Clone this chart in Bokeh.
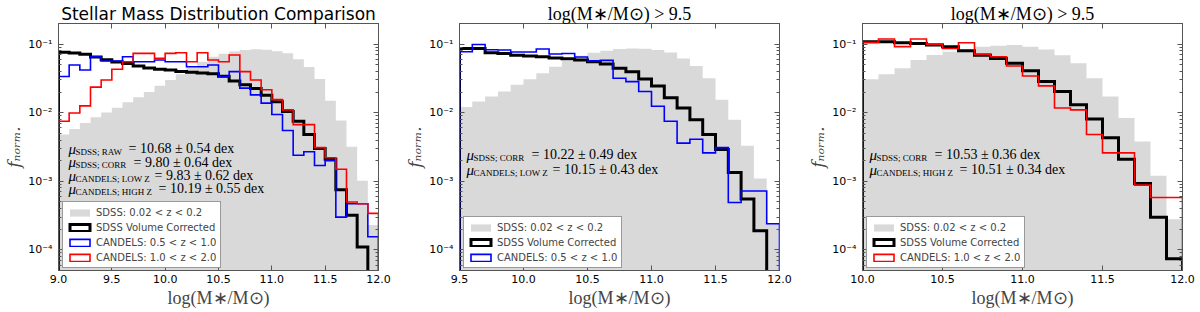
import numpy as np
from bokeh.plotting import figure
from bokeh.models import (Legend, LegendItem, Label, Title, LinearAxis, LogAxis, FixedTicker,
                          PrintfTickFormatter, CustomJSTickFormatter, Range1d)
from bokeh.layouts import row
from bokeh.embed import file_html
from bokeh.resources import INLINE

# ---------------- data (normalised histograms, 0.1 dex bins) ----------------
BIN_WIDTH = 0.1

# Panel 1: bins starting at 9.0
P1_START = 9.0
P1_SDSS_RAW = [0.0048, 0.0058, 0.0071, 0.0086, 0.0101, 0.0118, 0.0142, 0.0168, 0.0200, 0.0248,
               0.0300, 0.0365, 0.0455, 0.0555, 0.0655, 0.0725, 0.0780, 0.0820, 0.0840, 0.0830,
               0.0790, 0.0735, 0.0600, 0.0465, 0.0310, 0.0150, 0.0077, 0.0032, 0.00102, 0.00023]
P1_SDSS_CORR = [0.076, 0.074, 0.071, 0.065, 0.059, 0.055, 0.052, 0.048, 0.045, 0.043,
                0.042, 0.040, 0.039, 0.038, 0.037, 0.034, 0.029, 0.0255, 0.0225, 0.0180,
                0.0145, 0.0104, 0.0075, 0.0048, 0.0030, 0.0021, 0.00075, 0.00032, 0.00011, 0.0]
P1_CANDELS_LOWZ = [0.0337, 0.0497, 0.042, 0.0655, 0.0567, 0.0567, 0.0655, 0.0555, 0.0555, 0.0586,
                   0.0555, 0.0555, 0.0469, 0.0469, 0.0497, 0.0337, 0.0398, 0.0228, 0.0182, 0.0138,
                   0.0094, 0.0055, 0.0024, 0.0027, 0.0017, 0.0020, 0.0003, 0.00047, 0.00047, 0.000155]
P1_CANDELS_HIGHZ = [0.0075, 0.0099, 0.0126, 0.0236, 0.030, 0.043, 0.0555, 0.0733, 0.0733, 0.062,
                    0.0733, 0.075, 0.0555, 0.075, 0.0586, 0.0555, 0.0693, 0.0398, 0.030, 0.0216,
                    0.0155, 0.011, 0.0067, 0.0067, 0.0031, 0.0022, 0.0015, 0.0005, 0.00047, 0.00034]

# Panel 2: bins starting at 9.5
P2_START = 9.5
P2_SDSS_RAW = [0.0121, 0.0146, 0.0173, 0.0204, 0.0255, 0.0308, 0.0376, 0.0469, 0.0573, 0.0677,
               0.0748, 0.080, 0.0847, 0.0865, 0.0855, 0.0818, 0.0757, 0.0619, 0.048, 0.0318,
               0.0154, 0.0079, 0.0033, 0.0011, 0.00024]
P2_SDSS_CORR = [0.0865, 0.0865, 0.075, 0.073, 0.069, 0.067, 0.0655, 0.063, 0.0613, 0.0586,
                0.0555, 0.0513, 0.0444, 0.0397, 0.031, 0.0245, 0.0165, 0.0117, 0.0079, 0.0048,
                0.0029, 0.00134, 0.00055, 0.00019, 0.0]
P2_CANDELS_LOWZ = [0.0774, 0.099, 0.083, 0.082, 0.077, 0.077, 0.085, 0.072, 0.073, 0.065,
                   0.057, 0.058, 0.0318, 0.0284, 0.0204, 0.0124, 0.0075, 0.0036, 0.0041, 0.0026,
                   0.0031, 0.00049, 0.00072, 0.00072, 0.00024]

# Panel 3: bins starting at 10.0
P3_START = 10.0
P3_SDSS_RAW = [0.0308, 0.0363, 0.0444, 0.0586, 0.0693, 0.0774, 0.0837, 0.0914, 0.0946, 0.097,
               0.0914, 0.0837, 0.069, 0.0525, 0.0318, 0.0173, 0.0084, 0.0038, 0.0012, 0.00028]
P3_SDSS_CORR = [0.108, 0.108, 0.105, 0.102, 0.097, 0.0915, 0.080, 0.069, 0.062, 0.0525,
                0.041, 0.0285, 0.0204, 0.0131, 0.0081, 0.0043, 0.0021, 0.00093, 0.0003, 0.000074]
P3_CANDELS_HIGHZ = [0.106, 0.119, 0.092, 0.119, 0.100, 0.0865, 0.105, 0.0716, 0.0655, 0.048,
                    0.0343, 0.0246, 0.0117, 0.011, 0.0048, 0.0026, 0.0026, 0.00088, 0.00058, 0.00058]

X_TICKS_P1 = [9.0, 9.5, 10.0, 10.5, 11.0, 11.5, 12.0]
X_TICKS_P2 = [9.5, 10.0, 10.5, 11.0, 11.5, 12.0]
X_TICKS_P3 = [10.0, 10.5, 11.0, 11.5, 12.0]
Y_TICKS = [1e-4, 1e-3, 1e-2, 1e-1]
Y_RANGE = (5e-5, 0.2)
X_MAX = 12.0

LEG_RAW = "SDSS: 0.02 < z < 0.2"
LEG_CORR = "SDSS Volume Corrected"
LEG_LOW = "CANDELS: 0.5 < z < 1.0"
LEG_HIGH = "CANDELS: 1.0 < z < 2.0"

TITLE_P1 = "Stellar Mass Distribution Comparison"
TITLE_P23 = "log(M\u2217/M\u2299) > 9.5"
XLABEL = "log(M\u2217/M\u2299)"
YLABEL = "f\u2099\u2092\u1d63\u2098."

STATS_P1 = [("SDSS; RAW", "= 10.68 \u00b1 0.54 dex"),
            ("SDSS; CORR", "= 9.80 \u00b1 0.64 dex"),
            ("CANDELS; LOW Z", "= 9.83 \u00b1 0.62 dex"),
            ("CANDELS; HIGH Z", "= 10.19 \u00b1 0.55 dex")]
STATS_P2 = [("SDSS; CORR", "= 10.22 \u00b1 0.49 dex"),
            ("CANDELS; LOW Z", "= 10.15 \u00b1 0.43 dex")]
STATS_P3 = [("SDSS; CORR", "= 10.53 \u00b1 0.36 dex"),
            ("CANDELS; HIGH Z", "= 10.51 \u00b1 0.34 dex")]

# ---------------- styling ----------------
FRAME = "#555555"
GREY = "#d9d9d9"
FLOOR = 1e-7
SERIF = "Liberation Serif"
SANS = "DejaVu Sans"
FIG_H = 312
FRAME_H = 247

SERIES_STYLE = {
    "corr": dict(color="black", width=3.0, label=LEG_CORR),
    "low": dict(color="#0000ff", width=1.6, label=LEG_LOW),
    "high": dict(color="#ff0000", width=1.6, label=LEG_HIGH),
}


def step_outline(start, vals):
    v = np.asarray(vals, dtype=float)
    v = np.where(v > 0, v, FLOOR)
    e = start + BIN_WIDTH * np.arange(len(v) + 1)
    xs = np.repeat(e, 2)
    ys = np.concatenate([[FLOOR], np.repeat(v, 2), [FLOOR]])
    return xs, ys


minor = [k * 10.0 ** ex for ex in range(-5, 0) for k in range(2, 10)]
y_fmt_code = """
const sup = {"-": "\u207b", "0": "\u2070", "1": "\u00b9", "2": "\u00b2", "3": "\u00b3",
             "4": "\u2074", "5": "\u2075", "6": "\u2076", "7": "\u2077", "8": "\u2078", "9": "\u2079"};
const e = Math.round(Math.log10(tick));
return "10" + String(e).split("").map(c => sup[c]).join("");
"""


def style_axis(ax, show_labels, minor_ticks):
    ax.axis_line_color = FRAME
    ax.major_tick_line_color = FRAME
    ax.major_tick_in = 5
    ax.major_tick_out = 0
    if minor_ticks:
        ax.minor_tick_line_color = FRAME
        ax.minor_tick_in = 3
        ax.minor_tick_out = 0
    else:
        ax.minor_tick_line_color = None
    ax.major_label_text_font = SANS
    ax.major_label_text_color = "black"
    if show_labels:
        ax.major_label_text_font_size = "11px"
    else:
        ax.major_label_text_font_size = "1px"
        ax.major_label_text_alpha = 0.0
        ax.major_label_standoff = 0


def make_panel(width, bl, br, xlo, xticks, start, raw, lines, stats, title, title_font,
               title_size, mu_dx, eq_dx, stat_y):
    p = figure(width=width, height=FIG_H, x_range=Range1d(xlo, X_MAX),
               y_range=Range1d(*Y_RANGE), y_axis_type="log", title=None,
               x_axis_location=None, y_axis_location=None,
               output_backend="svg", toolbar_location=None,
               min_border_left=bl, min_border_right=br, min_border_top=23, min_border_bottom=42)
    p.grid.grid_line_color = None
    p.outline_line_color = FRAME
    p.background_fill_color = "white"
    p.border_fill_color = "white"

    xt = FixedTicker(ticks=xticks)
    yt = FixedTicker(ticks=Y_TICKS, minor_ticks=minor)

    bottom = LinearAxis(ticker=xt, formatter=PrintfTickFormatter(format="%.1f"))
    style_axis(bottom, True, False)
    bottom.major_label_standoff = 4
    bottom.axis_label = XLABEL
    bottom.axis_label_text_font = SERIF
    bottom.axis_label_text_font_style = "normal"
    bottom.axis_label_text_font_size = "18px"
    bottom.axis_label_standoff = 2
    top = LinearAxis(ticker=xt)
    style_axis(top, False, False)
    left = LogAxis(ticker=yt, formatter=CustomJSTickFormatter(code=y_fmt_code))
    style_axis(left, True, True)
    left.major_label_standoff = 6
    left.axis_label = YLABEL
    left.axis_label_text_font = "DejaVu Serif"
    left.axis_label_text_font_style = "italic"
    left.axis_label_text_font_size = "17px"
    left.axis_label_standoff = 1
    right = LogAxis(ticker=yt)
    style_axis(right, False, True)
    p.add_layout(bottom, "below")
    p.add_layout(top, "above")
    p.add_layout(left, "left")
    p.add_layout(right, "right")
    p.add_layout(Title(text=title, align="center", standoff=0, text_font=title_font,
                       text_font_size=title_size, text_font_style="normal",
                       text_color="black"), "above")

    items = []
    xs, ys = step_outline(start, raw)
    r_raw = p.patch(xs, ys, fill_color=GREY, line_color=None)
    items.append(LegendItem(label=LEG_RAW, renderers=[r_raw]))
    styles = []
    for key, vals in lines:
        st = SERIES_STYLE[key]
        xs, ys = step_outline(start, vals)
        p.line(xs, ys, line_color=st["color"], line_width=st["width"], line_join="miter")
        styles.append(st)
    nan = np.array([np.nan])
    for st in styles:
        d = p.quad(left=nan, right=nan, top=nan, bottom=nan, fill_color=None,
                   line_color=st["color"], line_width=st["width"], line_join="miter")
        items.append(LegendItem(label=st["label"], renderers=[d]))

    leg = Legend(items=items, location=(4, 2), orientation="vertical",
                 border_line_color="#333333", border_line_width=1,
                 background_fill_color="white", background_fill_alpha=1.0,
                 label_text_font=SANS, label_text_font_size="10px", label_standoff=4,
                 label_height=12, glyph_width=25, glyph_height=9, padding=4, spacing=3, margin=0)
    p.add_layout(leg)

    # statistics text (inside the frame)
    for (sub, rest), dx_eq, yb in zip(stats, eq_dx, stat_y):
        ybase = FRAME_H - yb
        p.add_layout(Label(x=mu_dx, y=ybase, x_units="screen", y_units="screen", text="\u03bc",
                           text_align="left", text_baseline="alphabetic", text_font=SERIF,
                           text_font_style="italic", text_font_size="15px", text_color="black"))
        p.add_layout(Label(x=mu_dx + 7, y=ybase - 3, x_units="screen", y_units="screen", text=sub,
                           text_align="left", text_baseline="alphabetic", text_font=SERIF,
                           text_font_size="9px", text_color="black"))
        p.add_layout(Label(x=dx_eq, y=ybase, x_units="screen", y_units="screen", text=rest,
                           text_align="left", text_baseline="alphabetic", text_font=SERIF,
                           text_font_size="14px", text_color="black"))
    return p


# figure boundaries: 0-400, 400-800, 800-1200; frames at 58-378, 459-779, 862-1182
p1 = make_panel(400, 58, 22, 9.0, X_TICKS_P1, P1_START, P1_SDSS_RAW,
                [("corr", P1_SDSS_CORR), ("low", P1_CANDELS_LOWZ), ("high", P1_CANDELS_HIGHZ)],
                STATS_P1, TITLE_P1, SANS, "17px", 10, [70, 75, 96, 100],
                [125.3, 138.7, 152, 165.3])
p2 = make_panel(400, 59, 21, 9.5, X_TICKS_P2, P2_START, P2_SDSS_RAW,
                [("corr", P2_SDSS_CORR), ("low", P2_CANDELS_LOWZ)],
                STATS_P2, TITLE_P23, SERIF, "18px", 7, [72, 93], [131, 146])
p3 = make_panel(400, 62, 18, 10.0, X_TICKS_P3, P3_START, P3_SDSS_RAW,
                [("corr", P3_SDSS_CORR), ("high", P3_CANDELS_HIGHZ)],
                STATS_P3, TITLE_P23, SERIF, "18px", 7, [72, 97], [131, 146])

layout = row(p1, p2, p3)
open("out.html", "w").write(file_html(layout, INLINE))
